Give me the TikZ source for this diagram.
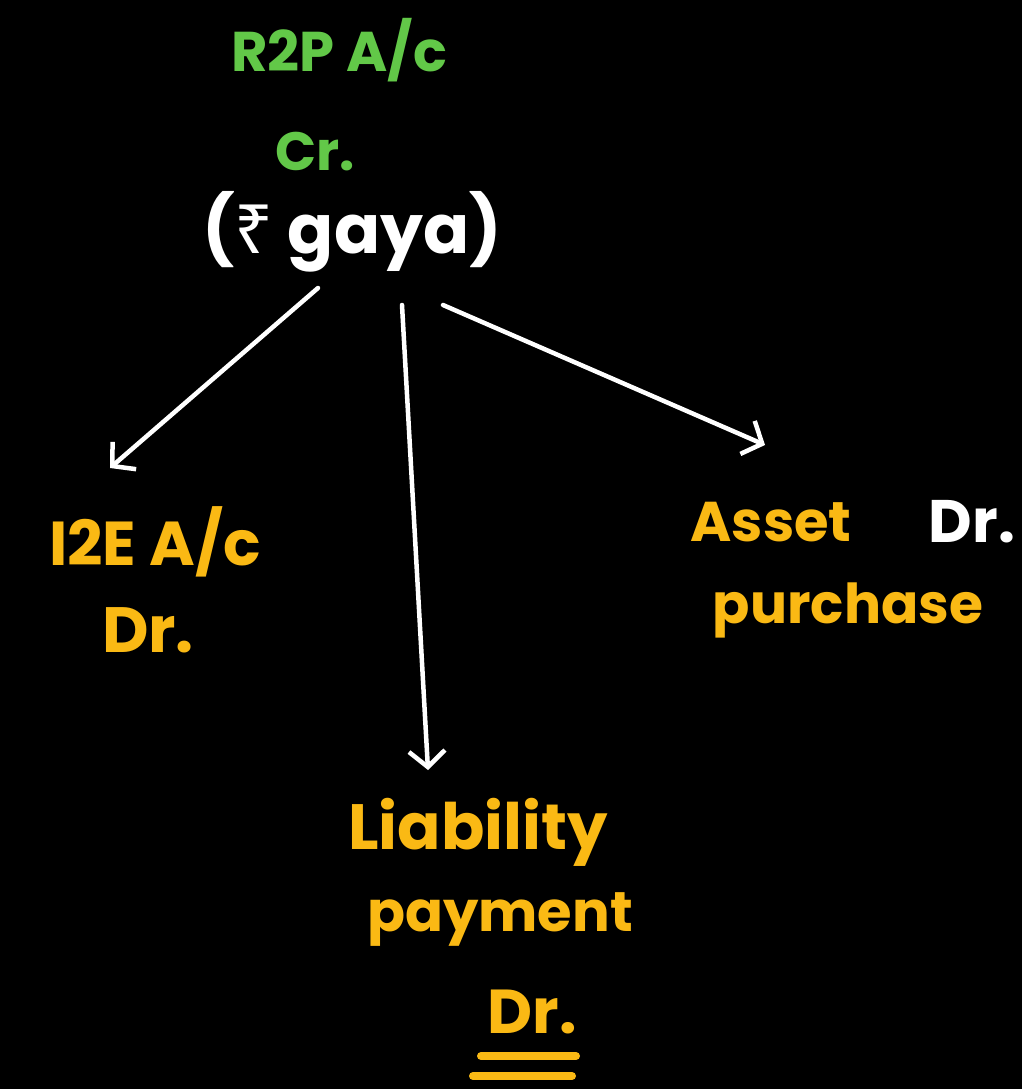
\documentclass[tikz,border=0pt]{standalone}
\usepackage{fontspec}
\setmainfont{Poppins}
\newfontfamily\rupeefont{Noto Sans}
\usetikzlibrary{arrows.meta}
\definecolor{grn}{RGB}{98,200,72}
\definecolor{org}{RGB}{250,185,20}
\newcommand{\fsz}[1]{\fontsize{#1}{#1}\selectfont\bfseries}
\begin{document}
\begin{tikzpicture}[x=1pt,y=-1pt,
  lbl/.style={inner sep=0pt,anchor=center},
  arr/.style={draw=white,line width=4.5pt,line cap=round,-{Straight Barb[length=16pt,width=36pt,line width=4.5pt]}}]
\fill[black] (0,0) rectangle (1022,1089);
\useasboundingbox (0,0) rectangle (1022,1089);
\node[lbl,text=grn,font=\fsz{56}] (r2p) at (339,50) {R2P A/c};
\node[lbl,text=grn,font=\fsz{54}] (cr) at (315,152) {Cr.};
\node[lbl,text=white,font=\fsz{68}] (gaya) at (352,232) {({\rupeefont\bfseries ₹} gaya)};
\node[lbl,text=org,font=\fsz{62}] (i2e) at (155,542) {I2E A/c};
\node[lbl,text=org,font=\fsz{64}] (i2edr) at (148,630) {Dr.};
\node[lbl,text=org,font=\fsz{56}] (asset) at (771,522) {Asset};
\node[lbl,text=white,font=\fsz{60}] (assetdr) at (972,522) {Dr.};
\node[lbl,text=org,font=\fsz{55}] (purch) at (848,610) {purchase};
\node[lbl,text=org,font=\fsz{64}] (liab) at (478,832) {Liability};
\node[lbl,text=org,font=\fsz{56}] (paym) at (500,920) {payment};
\node[lbl,text=org,font=\fsz{62}] (ldr) at (532,1012) {Dr.};
\coordinate (a1s) at (318,288);
\coordinate (a1e) at (110,468);
\coordinate (a2s) at (402,305);
\coordinate (a2e) at (428,770);
\coordinate (a3s) at (443,305);
\coordinate (a3e) at (765,445);
\draw[arr] (a1s) -- (a1e);
\draw[arr] (a2s) -- (a2e);
\draw[arr] (a3s) -- (a3e);
\coordinate (u1a) at (481,1056);
\coordinate (u1b) at (576,1056);
\coordinate (u2a) at (473,1076);
\coordinate (u2b) at (572,1076);
\draw[org,line width=8pt,line cap=round] (u1a) -- (u1b);
\draw[org,line width=8pt,line cap=round] (u2a) -- (u2b);
\end{tikzpicture}
\end{document}
